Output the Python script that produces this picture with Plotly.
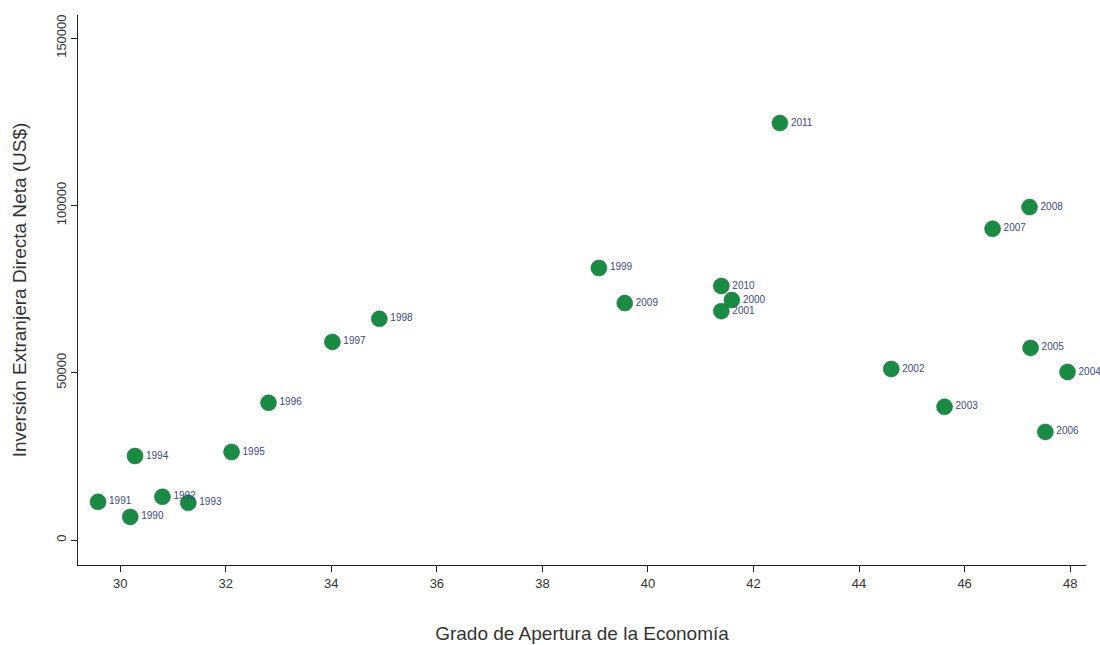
import plotly.graph_objects as go

# Apertura (%) vs IED neta (US$)
years = ["1990", "1991", "1992", "1993", "1994", "1995", "1996", "1997", "1998",
         "1999", "2000", "2001", "2002", "2003", "2004", "2005", "2006", "2007",
         "2008", "2009", "2010", "2011"]
apertura = [30.19, 29.58, 30.80, 31.29, 30.28, 32.11, 32.81, 34.02, 34.91,
            39.07, 41.59, 41.39, 44.61, 45.62, 47.95, 47.25, 47.53, 46.53,
            47.23, 39.56, 41.39, 42.50]
ied = [6900, 11400, 12900, 11100, 25100, 26300, 41000, 59200, 66100,
       81300, 71700, 68400, 51100, 39800, 50200, 57400, 32300, 93000,
       99500, 70800, 75900, 124600]

x_ticks = [30, 32, 34, 36, 38, 40, 42, 44, 46, 48]
y_ticks = [0, 50000, 100000, 150000]
y_labels = ["0", "50000", "100000", "150000"]

FONT = "Liberation Sans, Arial, sans-serif"

fig = go.Figure(
    go.Scatter(
        x=apertura,
        y=ied,
        mode="markers+text",
        text=years,
        textposition="middle right",
        textfont=dict(family=FONT, size=10, color="#3b4a7c"),
        marker=dict(size=16, color="#1b8a45", line=dict(width=0.5, color="#0f6b32")),
        cliponaxis=False,
        hoverinfo="x+y+text",
    )
)

axis_common = dict(
    showgrid=False,
    zeroline=False,
    showline=True,
    linecolor="#222222",
    linewidth=1.3,
    ticks="outside",
    ticklen=6,
    tickcolor="#222222",
    tickfont=dict(family=FONT, size=13, color="#333333"),
    automargin=False,
)

fig.update_layout(
    width=1100,
    height=645,
    paper_bgcolor="white",
    plot_bgcolor="white",
    showlegend=False,
    margin=dict(l=78, r=14, t=15, b=80),
    xaxis=dict(
        axis_common,
        range=[29.2, 48.3],
        tickvals=x_ticks,
        title=dict(text="Grado de Apertura de la Economía",
                   font=dict(family=FONT, size=19, color="#333333"), standoff=36),
    ),
    yaxis=dict(
        axis_common,
        range=[-7470, 156900],
        tickvals=y_ticks,
        ticktext=y_labels,
        tickangle=-90,
        title=dict(text="Inversión Extranjera Directa Neta (US$)",
                   font=dict(family=FONT, size=19, color="#333333"), standoff=22),
    ),
)

# the page's default 8px body margin would shift and clip the figure
fig.write_html(
    "out.html",
    config={"displayModeBar": False},
    post_script="document.body.style.margin='0';",
)
